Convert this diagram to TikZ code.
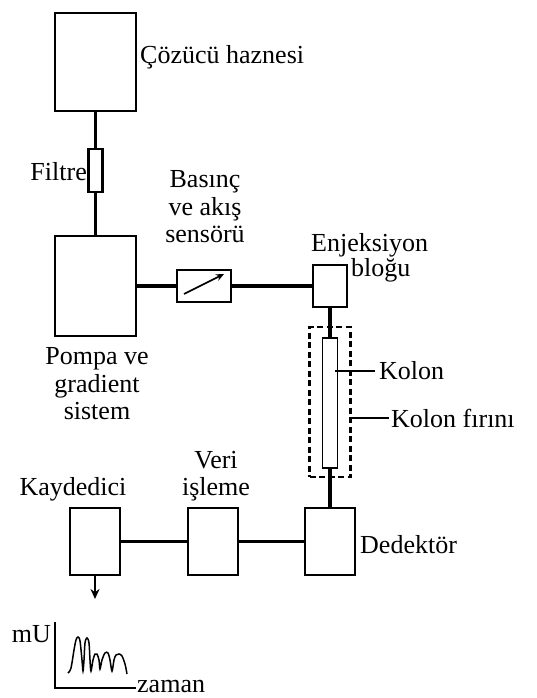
\documentclass[tikz,border=0pt]{standalone}
\usepackage{fontspec}
\setmainfont{Liberation Serif}
\usetikzlibrary{arrows.meta}
\begin{document}
\begin{tikzpicture}[x=1pt,y=-1pt,
  box/.style={draw,line width=2.6pt,fill=white,inner sep=0pt,outer sep=0pt},
  thinbox/.style={draw,line width=1.8pt,fill=white,inner sep=0pt,outer sep=0pt},
  conn/.style={line width=3.2pt},
  lead/.style={line width=1.5pt},
  lbl/.style={font=\fontsize{26}{27.5}\selectfont,inner sep=0pt},
  ]
\useasboundingbox (0,0) rectangle (536,698);
% nodes
\node[box,minimum width=81pt,minimum height=98pt] (res) at (95.5,62) {};
\node[thinbox,minimum width=14pt,minimum height=43pt,line width=2.2pt] (fil) at (95.5,170.5) {};
\node[box,minimum width=81pt,minimum height=100pt] (pump) at (95.5,286) {};
\node[thinbox,minimum width=54pt,minimum height=32pt] (sens) at (204,286) {};
\node[box,minimum width=34pt,minimum height=42pt] (inj) at (330,286) {};
\node[draw,line width=2.6pt,dash pattern=on 6pt off 3.5pt,minimum width=41pt,minimum height=150pt,inner sep=0pt,outer sep=0pt] (oven) at (330,402) {};
\node[thinbox,minimum width=15pt,minimum height=130pt] (col) at (330,403) {};
\node[box,minimum width=50pt,minimum height=67pt] (det) at (330,541.5) {};
\node[box,minimum width=50pt,minimum height=67pt] (veri) at (213,541.5) {};
\node[box,minimum width=50pt,minimum height=67pt] (kay) at (95,541.5) {};
% connectors
\draw[line width=2.4pt] (res.south) -- (fil.north);
\draw[line width=2.4pt] (fil.south) -- (pump.north);
\draw[conn] (pump.east) -- (sens.west);
\draw[conn] (sens.east) -- (inj.west);
\draw[conn] (inj.south) -- (col.north);
\draw[conn] (col.south) -- (det.north);
\draw[conn] (det.west) -- (veri.east);
\draw[conn] (veri.west) -- (kay.east);
\coordinate (arrEnd) at (95,599);
\draw[line width=2pt,-{Stealth[length=10pt,width=9pt]}] (kay.south) -- (arrEnd);
% sensor arrow
\coordinate (sa) at (184,294);
\coordinate (sb) at (224,274);
\draw[line width=1.6pt,-{Stealth[length=8pt,width=7pt]}] (sa) -- (sb);
% leaders
\coordinate (kl1) at (335,371);
\coordinate (kl2) at (375,371);
\draw[lead] (kl1) -- (kl2);
\coordinate (ol1) at (350.5,418);
\coordinate (ol2) at (389,418);
\draw[lead] (ol1) -- (ol2);
% labels
\node[lbl,anchor=west] (tres) at (140,57) {Çözücü haznesi};
\node[lbl,anchor=east] (tfil) at (87,172) {Filtre};
\node[lbl,align=center] (tsens) at (205,207) {Basınç\\ve akış\\sensörü};
\node[lbl,anchor=west] (tinj1) at (311,245) {Enjeksiyon};
\node[lbl,anchor=west] (tinj2) at (351,270) {bloğu};
\node[lbl,align=center] (tpump) at (97,384) {Pompa ve\\gradient\\sistem};
\node[lbl,anchor=west] (tkol) at (379,371) {Kolon};
\node[lbl,anchor=west] (tov) at (391,418) {Kolon fırını};
\node[lbl,anchor=west] (tdet) at (360,545) {Dedektör};
\node[lbl,align=center] (tveri) at (216,476) {Veri\\işleme};
\node[lbl] (tkay) at (73,489) {Kaydedici};
% chromatogram
\coordinate (ax0) at (55,688);
\coordinate (axT) at (55,622);
\coordinate (axR) at (136,688);
\draw[line width=2pt] (axT) -- (ax0) -- (axR);
\node[lbl,anchor=east] (tmu) at (51,634) {mU};
\node[lbl,anchor=base west] (tzam) at (137,692) {zaman};
\draw[line width=1.5pt,smooth,tension=0.55] plot coordinates {
 (68,673) (71,668) (74,650) (76,640) (78,637) (80,641) (82,660) (83,671) (84,660) (85,643) (87,638) (89,643) (90,660) (91,671) (93,660) (95,654) (97,654) (99,660) (100,669) (102,660) (105,653) (108,653) (110,660) (112,671) (114,660) (116,655) (119,654) (122,656) (125,664) (127,674)};
\end{tikzpicture}
\end{document}
